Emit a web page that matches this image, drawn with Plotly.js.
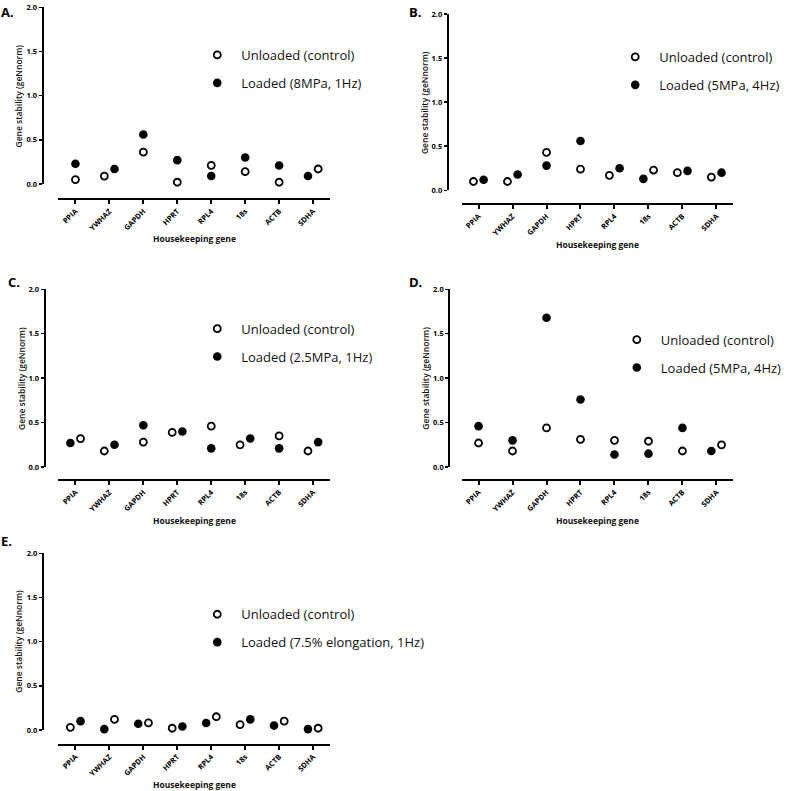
<!DOCTYPE html>
<html>
<head>
<meta charset="utf-8">
<script src="https://cdn.plot.ly/plotly-3.0.1.min.js"></script>
<style>html,body{margin:0;padding:0;background:#fff;}#chart{width:787px;height:791px;}</style>
</head>
<body>
<div id="chart"></div>
<script>
// ---------- DATA ----------
const genes = ['PPIA', 'YWHAZ', 'GAPDH', 'HPRT', 'RPL4', '18s', 'ACTB', 'SDHA'];
const yTickVals = [0, 0.5, 1.0, 1.5, 2.0];
const yTickText = ['0.0', '0.5', '1.0', '1.5', '2.0'];

const unloadedA = [0.05, 0.09, 0.36, 0.02, 0.21, 0.14, 0.02, 0.17];
const loadedA   = [0.23, 0.17, 0.56, 0.27, 0.09, 0.30, 0.21, 0.09];

const unloadedB = [0.10, 0.10, 0.43, 0.24, 0.17, 0.23, 0.20, 0.15];
const loadedB   = [0.12, 0.18, 0.28, 0.56, 0.25, 0.13, 0.22, 0.20];

const unloadedC = [0.32, 0.18, 0.28, 0.39, 0.46, 0.25, 0.35, 0.18];
const loadedC   = [0.27, 0.25, 0.47, 0.40, 0.21, 0.32, 0.21, 0.28];

const unloadedD = [0.27, 0.18, 0.44, 0.31, 0.30, 0.29, 0.18, 0.25];
const loadedD   = [0.46, 0.30, 1.68, 0.76, 0.14, 0.15, 0.44, 0.18];

const unloadedE = [0.03, 0.12, 0.08, 0.02, 0.15, 0.06, 0.10, 0.02];
const loadedE   = [0.10, 0.01, 0.07, 0.04, 0.08, 0.12, 0.05, 0.01];

const panelLetters = ['A.', 'B.', 'C.', 'D.', 'E.'];
const unloadedLabel = 'Unloaded (control)';
const loadedLabels = ['Loaded (8MPa, 1Hz)', 'Loaded (5MPa, 4Hz)', 'Loaded (2.5MPa, 1Hz)',
                      'Loaded (5MPa, 4Hz)', 'Loaded (7.5% elongation, 1Hz)'];
const yTitle = 'Gene stability (geNnorm)';
const xTitle = 'Housekeeping gene';

const unloadedSets = [unloadedA, unloadedB, unloadedC, unloadedD, unloadedE];
const loadedSets   = [loadedA, loadedB, loadedC, loadedD, loadedE];

// ---------- LAYOUT GEOMETRY (pixels) ----------
const W = 787, H = 791;
const px = x => x / W;
const py = y => 1 - y / H;
const geom = [
  {x0: 59,    x1: 333, yt: 7.3,   yb: 184,   yax: 43,    xay: 199,   leg: [219, 54],    let: [8, 1]},
  {x0: 465.7, x1: 740, yt: 14,    yb: 190.3, yax: 451.7, xay: 204,   leg: [640.7, 56],  let: [419, 1]},
  {x0: 59,    x1: 333, yt: 289.3, yb: 467,   yax: 45,    xay: 480,   leg: [219, 327.7], let: [14, 271]},
  {x0: 465.7, x1: 740, yt: 289.3, yb: 467,   yax: 453.3, xay: 480,   leg: [642.3, 338.7], let: [419, 271]},
  {x0: 59,    x1: 333, yt: 553.3, yb: 730,   yax: 43.3,  xay: 744.5, leg: [219, 613.3], let: [7, 530]}
];

const FONT = 'Open Sans, Noto Sans, sans-serif';
const data = [];
const layout = {
  width: W, height: H,
  margin: {l: 0, r: 0, t: 0, b: 0},
  paper_bgcolor: '#fff', plot_bgcolor: 'rgba(0,0,0,0)',
  showlegend: true,
  annotations: []
};

// Separate points that would overlap (lower value to the left)
function offsets(u, l) {
  const ou = [], ol = [];
  for (let i = 0; i < u.length; i++) {
    if (Math.abs(u[i] - l[i]) < 0.113) {
      if (u[i] <= l[i]) { ou.push(i - 0.15); ol.push(i + 0.15); }
      else { ou.push(i + 0.15); ol.push(i - 0.15); }
    } else { ou.push(i); ol.push(i); }
  }
  return [ou, ol];
}

geom.forEach((g, k) => {
  const n = k + 1;
  const sx = n === 1 ? '' : String(n);
  const legName = n === 1 ? 'legend' : 'legend' + n;
  const [xu, xl] = offsets(unloadedSets[k], loadedSets[k]);

  data.push({
    type: 'scatter', mode: 'markers', x: xu, y: unloadedSets[k],
    xaxis: 'x' + sx, yaxis: 'y' + sx, name: unloadedLabel,
    legend: legName, legendgroup: 'u' + n, cliponaxis: false, hoverinfo: 'skip',
    marker: {symbol: 'circle', size: 7, color: '#fff', line: {color: '#000', width: 1.8}}
  });
  data.push({
    type: 'scatter', mode: 'markers', x: xl, y: loadedSets[k],
    xaxis: 'x' + sx, yaxis: 'y' + sx, name: loadedLabels[k],
    legend: legName, legendgroup: 'l' + n, cliponaxis: false, hoverinfo: 'skip',
    marker: {symbol: 'circle', size: 8.6, color: '#000', line: {color: '#000', width: 0}}
  });

  layout['xaxis' + sx] = {
    domain: [px(g.x0), px(g.x1)], range: [-0.5, 7.5],
    anchor: 'free', position: py(g.xay),
    showline: true, linewidth: 2, linecolor: '#000',
    ticks: 'outside', ticklen: 4, tickwidth: 2, tickcolor: '#000',
    tickmode: 'array', tickvals: genes.map((_, i) => i), ticktext: genes,
    tickangle: -45, tickfont: {family: FONT, size: 7.5, weight: 'bold', color: '#000'},
    showgrid: false, zeroline: false, fixedrange: true
  };
  layout['yaxis' + sx] = {
    domain: [py(g.yb), py(g.yt)], range: [0, 2],
    anchor: 'free', position: px(g.yax),
    showline: true, linewidth: 2, linecolor: '#000',
    ticks: 'outside', ticklen: 3, tickwidth: 1.5, tickcolor: '#000',
    tickmode: 'array', tickvals: yTickVals, ticktext: yTickText,
    tickfont: {family: FONT, size: 7.5, weight: 'bold', color: '#000'},
    showgrid: false, zeroline: false, fixedrange: true
  };
  layout[legName] = {
    x: px(g.leg[0] - 24), y: py(g.leg[1] - 14), xanchor: 'left', yanchor: 'top',
    font: {family: FONT, size: 13, color: '#111'},
    bgcolor: 'rgba(0,0,0,0)', borderwidth: 0,
    itemwidth: 38, traceorder: 'grouped', tracegroupgap: 8,
    itemclick: false, itemdoubleclick: false
  };

  // panel letter
  layout.annotations.push({
    text: '<b>' + panelLetters[k] + '</b>', xref: 'paper', yref: 'paper',
    x: px(g.let[0]), y: py(g.let[1]), xanchor: 'center', yanchor: 'top',
    showarrow: false, font: {family: FONT, size: 13, color: '#000'}
  });
  // y title
  layout.annotations.push({
    text: yTitle, xref: 'paper', yref: 'paper', textangle: -90,
    x: px(g.yax - 24), y: py((g.yt + g.yb) / 2), xanchor: 'center', yanchor: 'middle',
    showarrow: false, font: {family: FONT, size: 8.5, weight: 600, color: '#111'}
  });
  // x title
  layout.annotations.push({
    text: xTitle, xref: 'paper', yref: 'paper',
    x: px((g.x0 + g.x1) / 2), y: py(g.xay + 40), xanchor: 'center', yanchor: 'middle',
    showarrow: false, font: {family: FONT, size: 8.5, weight: 'bold', color: '#111'}
  });
});

Plotly.newPlot('chart', data, layout, {displayModeBar: false, staticPlot: true});
</script>
</body>
</html>
